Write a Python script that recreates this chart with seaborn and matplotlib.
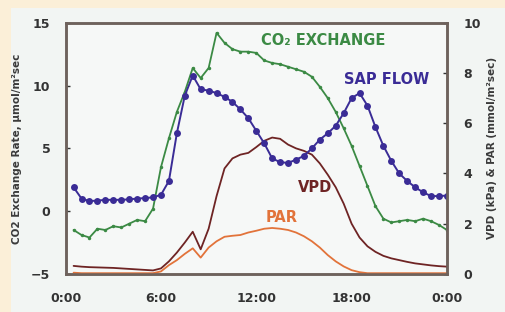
import pandas as pd
import matplotlib.pyplot as plt
import seaborn as sns
from matplotlib.patches import Rectangle

# valores (a cada meia hora)
hours = [i / 2 for i in range(1, 49)]

co2 = [-1.5, -1.9, -2.1, -1.4, -1.5, -1.2, -1.3, -1.0, -0.7, -0.8, 0.2, 3.5,
       5.8, 7.9, 9.5, 11.4, 10.6, 11.4, 14.2, 13.4, 12.9, 12.7, 12.7, 12.6,
       12.0, 11.8, 11.7, 11.5, 11.3, 11.1, 10.7, 9.9, 9.0, 7.9, 6.6, 5.2,
       3.6, 2.0, 0.4, -0.6, -0.9, -0.8, -0.7, -0.8, -0.6, -0.8, -1.1, -1.5]

sap_flow = [3.45, 3.0, 2.9, 2.92, 2.95, 2.95, 2.95, 2.97, 3.0, 3.02, 3.05, 3.15,
            3.7, 5.6, 7.1, 7.9, 7.35, 7.3, 7.2, 7.05, 6.85, 6.55, 6.2, 5.7,
            5.2, 4.6, 4.45, 4.42, 4.55, 4.7, 5.0, 5.35, 5.6, 5.9, 6.4, 7.0,
            7.2, 6.7, 5.85, 5.1, 4.5, 4.0, 3.7, 3.45, 3.25, 3.1, 3.1, 3.12]

vpd = [0.32, 0.29, 0.27, 0.26, 0.25, 0.24, 0.22, 0.2, 0.18, 0.16, 0.14, 0.22,
       0.5, 0.85, 1.25, 1.68, 0.98, 1.8, 3.1, 4.2, 4.6, 4.75, 4.82, 5.05,
       5.3, 5.43, 5.38, 5.15, 5.0, 4.9, 4.75, 4.4, 3.95, 3.45, 2.8, 2.0,
       1.45, 1.1, 0.88, 0.72, 0.62, 0.55, 0.48, 0.42, 0.38, 0.34, 0.31, 0.29]

par = [0.05, 0.03, 0.03, 0.03, 0.03, 0.03, 0.03, 0.03, 0.03, 0.03, 0.03, 0.1,
       0.35, 0.55, 0.8, 1.02, 0.65, 1.05, 1.3, 1.48, 1.52, 1.55, 1.65, 1.72,
       1.8, 1.83, 1.8, 1.75, 1.65, 1.5, 1.3, 1.05, 0.75, 0.5, 0.3, 0.15,
       0.07, 0.03, 0.03, 0.03, 0.03, 0.03, 0.03, 0.03, 0.03, 0.03, 0.03, 0.03]

xtick_pos = [0, 6, 12, 18, 24]
xtick_labels = ['0:00', '6:00', '12:00', '18:00', '0:00']

df = pd.DataFrame({'hora': hours, 'co2': co2, 'sap': sap_flow, 'vpd': vpd, 'par': par})

sns.set_style('white')
plt.rcParams['font.family'] = ['DejaVu Sans']
plt.rcParams['font.weight'] = 'bold'

fig = plt.figure(figsize=(5.05, 3.12), dpi=100, facecolor='#fbefd8')
fig.patches.append(Rectangle((11 / 505, 0), 1, 1 - 8 / 312, transform=fig.transFigure,
                             facecolor='#f2f5f3', edgecolor='none', zorder=-1))

ax = fig.add_axes([0.130, 0.122, 0.755, 0.805])
ax.set_facecolor('#f6f8f7')
ax2 = ax.twinx()

green = '#3b8a44'
blue = '#3a2c96'
maroon = '#6e2424'
orange = '#e2733a'

sns.lineplot(data=df, x='hora', y='co2', ax=ax, color=green, lw=1.3,
             marker='o', markersize=2.5, markeredgewidth=0)
sns.lineplot(data=df, x='hora', y='vpd', ax=ax2, color=maroon, lw=1.3)
sns.lineplot(data=df, x='hora', y='par', ax=ax2, color=orange, lw=1.3)
sns.lineplot(data=df, x='hora', y='sap', ax=ax2, color=blue, lw=1.4,
             marker='o', markersize=5, markeredgewidth=0)

ax.set_xlim(0, 24)
ax.set_ylim(-5, 15)
ax2.set_ylim(0, 10)
ax.set_xticks(xtick_pos)
ax.set_xticklabels(xtick_labels)
ax.set_yticks([-5, 0, 5, 10, 15])
ax2.set_yticks([0, 2, 4, 6, 8, 10])

for a in (ax, ax2):
    a.tick_params(direction='in', length=3, labelsize=9, colors='#333333', width=1)
    for s in a.spines.values():
        s.set_color('#6e625c')
        s.set_linewidth(1.8)
ax.tick_params(axis='x', pad=13)
ax.tick_params(axis='y', pad=11)
ax2.tick_params(axis='y', pad=12)

ax.set_xlabel('')
ax.set_ylabel('CO2 Exchange Rate, µmol/m²sec', fontsize=7.5, color='#3a3a3a',
              fontweight='bold', va='center', rotation=90)
ax.yaxis.set_label_coords(-0.128, 0.50)
ax2.set_ylabel('VPD (kPa) & PAR (mmol/m²sec)', fontsize=7.5, color='#3a3a3a',
               fontweight='bold', va='center', rotation=90)
ax2.yaxis.set_label_coords(1.118, 0.50)

ax.text(16.2, 13.6, 'CO₂ EXCHANGE', color=green, fontsize=10.5, fontweight='bold',
        ha='center', va='center')
ax2.text(20.2, 7.75, 'SAP FLOW', color=blue, fontsize=10.5, fontweight='bold', ha='center', va='center')
ax2.text(15.7, 3.45, 'VPD', color=maroon, fontsize=10.5, fontweight='bold', ha='center', va='center')
ax2.text(13.6, 2.25, 'PAR', color=orange, fontsize=10.5, fontweight='bold', ha='center', va='center')

fig.savefig('out.png', dpi=100, facecolor=fig.get_facecolor())
